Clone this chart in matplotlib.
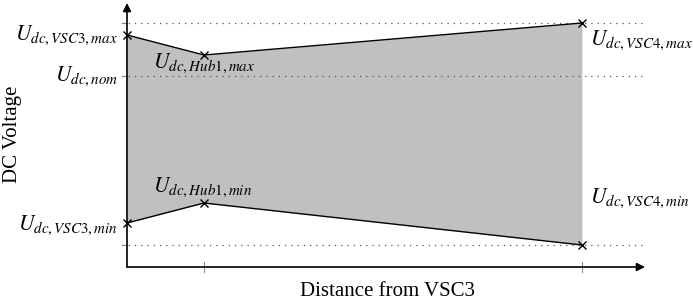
import matplotlib
matplotlib.use("Agg")
import matplotlib.pyplot as plt

# Schematic data (arbitrary units)
positions = [0.0, 1.0, 5.91]           # VSC3, Hub1, VSC4
u_max = [232, 212, 244]
u_min = [44, 64, 22]
u_nom = 191
u_upper = 244
u_lower = 22
max_labels = [r"$U_{dc,VSC3,max}$", r"$U_{dc,Hub1,max}$", r"$U_{dc,VSC4,max}$"]
min_labels = [r"$U_{dc,VSC3,min}$", r"$U_{dc,Hub1,min}$", r"$U_{dc,VSC4,min}$"]
nom_label = r"$U_{dc,nom}$"
xlabel = "Distance from VSC3"
ylabel = "DC Voltage"

plt.rcParams['mathtext.fontset'] = 'stix'
plt.rcParams['font.family'] = ['Liberation Serif', 'DejaVu Serif']

W, H = 693, 306
fig = plt.figure(figsize=(W/100, H/100), dpi=100)
x0, y0 = 127, 267
xr, yt = 645, 3
ax = fig.add_axes([x0/W, (H-y0)/H, (xr-x0)/W, (y0-yt)/H])
xmax = 6.73
ymax = 264
ax.set_xlim(0, xmax)
ax.set_ylim(0, ymax)
ax.axis('off')

# fill
ax.fill_between(positions, u_min, u_max, color='#c0c0c0', lw=0, zorder=1)

# dotted reference lines
for yv in [u_upper, u_nom, u_lower]:
    ax.plot([-0.065, xmax], [yv, yv], ls=(0, (1, 4)), color='#555555', lw=0.9, clip_on=False, zorder=2)
    ax.plot([-0.065, 0], [yv, yv], color='#888888', lw=0.8, clip_on=False, zorder=2)

# x ticks
for xv in positions[1:]:
    ax.plot([xv, xv], [-5, 5], color='#888888', lw=0.8, clip_on=False, zorder=2)

# lines
ax.plot(positions, u_max, color='black', lw=1.0, marker='x', ms=6, mew=1.0, clip_on=False, zorder=3)
ax.plot(positions, u_min, color='black', lw=1.0, marker='x', ms=6, mew=1.0, clip_on=False, zorder=3)

# axes arrows
ax.annotate('', xy=(xmax, 0), xytext=(0, 0),
            arrowprops=dict(arrowstyle='-|>', color='black', lw=1.2, mutation_scale=12, shrinkA=0, shrinkB=0),
            annotation_clip=False)
ax.annotate('', xy=(0, ymax), xytext=(0, 0),
            arrowprops=dict(arrowstyle='-|>', color='black', lw=1.2, mutation_scale=12, shrinkA=0, shrinkB=0),
            annotation_clip=False)

fs = 15.5
def lab(txt, xy, off, ha):
    ax.annotate(txt, xy=xy, xytext=off, textcoords='offset pixels',
                ha=ha, va='center', fontsize=fs, annotation_clip=False)

lab(max_labels[0], (positions[0], u_max[0]), (-9, 0), 'right')
lab(nom_label, (positions[0], u_nom), (-9, 0), 'right')
lab(min_labels[0], (positions[0], u_min[0]), (-9, -2), 'right')
lab(max_labels[1], (positions[1], u_max[1]), (-51, -8), 'left')
lab(min_labels[1], (positions[1], u_min[1]), (-51, 16), 'left')
lab(max_labels[2], (positions[2], u_max[2]), (8, -17), 'left')
lab(min_labels[2], (positions[2], u_min[2]), (8, 47), 'left')

fig.text(13/W, 1 - 134/H, ylabel, rotation=90, ha='center', va='center', fontsize=15)
fig.text(387/W, 1 - 296/H, xlabel, ha='center', va='baseline', fontsize=15)

fig.savefig('out.png', dpi=100)
